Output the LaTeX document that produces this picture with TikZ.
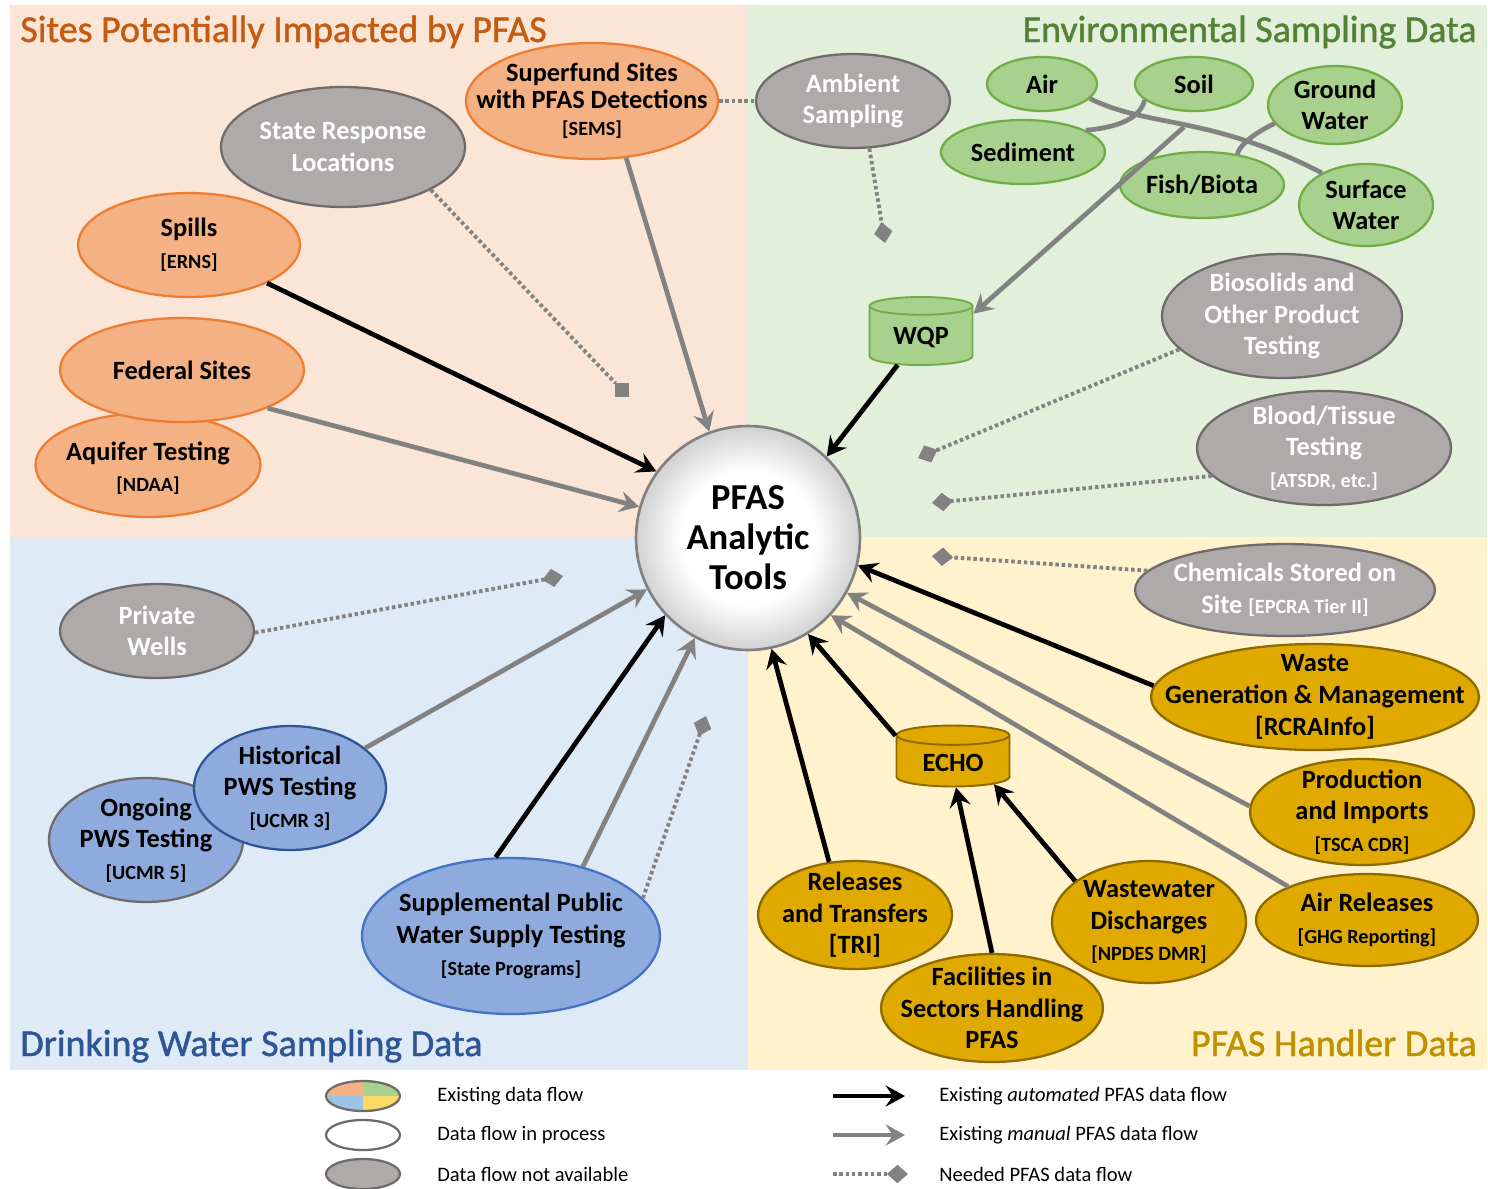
\documentclass[tikz,border=0pt]{standalone}
\usepackage{fontspec}
\setmainfont{Carlito}
\newfontfamily\headfont{Carlito}[FakeBold=1.2]
\usetikzlibrary{shapes.geometric,arrows.meta}
\definecolor{bgsites}{HTML}{FBE5D6}
\definecolor{bgenv}{HTML}{E2EFDA}
\definecolor{bgdw}{HTML}{DEEBF7}
\definecolor{bghand}{HTML}{FFF2CC}
\definecolor{ttlsites}{HTML}{C55A11}
\definecolor{ttlenv}{HTML}{548235}
\definecolor{ttldw}{HTML}{2F5597}
\definecolor{ttlhand}{HTML}{BF9000}
\definecolor{sitefill}{HTML}{F4B183}
\definecolor{siteline}{HTML}{ED7D31}
\definecolor{nafill}{HTML}{AEAAAA}
\definecolor{naline}{HTML}{6F6B6B}
\definecolor{envfill}{HTML}{A9D18E}
\definecolor{envline}{HTML}{70AD47}
\definecolor{dwfill}{HTML}{8FAADC}
\definecolor{dwline}{HTML}{4472C4}
\definecolor{handfill}{HTML}{E0A900}
\definecolor{handline}{HTML}{8C6A00}
\definecolor{flowgray}{HTML}{828282}
\definecolor{legyellow}{HTML}{FFD966}
\definecolor{legblue}{HTML}{9DC3E6}
\pgfdeclareradialshading{pfasglow}{\pgfpoint{0bp}{0bp}}{color(0bp)=(white); color(15bp)=(white); color(25bp)=(black!18); color(50bp)=(black!18)}
\newcommand{\src}[1]{{\fontsize{11.5}{13}\selectfont[#1]}}
\tikzset{
  blob/.style={ellipse, draw, line width=1.3pt, inner sep=-60pt, align=center,
    font=\bfseries\fontsize{15}{18}\selectfont},
  site/.style={blob, fill=sitefill, draw=siteline},
  nadata/.style={blob, fill=nafill, draw=naline, text=white},
  env/.style={blob, fill=envfill, draw=envline},
  dw/.style={blob, fill=dwfill, draw=dwline},
  hand/.style={blob, fill=handfill, draw=handline},
  db/.style={cylinder, shape border rotate=90, aspect=0.3, draw, line width=1.1pt,
    inner sep=1pt, anchor=shape center, font=\bfseries\fontsize{15}{17}\selectfont},
  autoflow/.style={line width=2.7pt, -{Stealth[length=11pt,width=12pt,inset=4pt]}},
  manflow/.style={autoflow, draw=flowgray},
  needflow/.style={line width=2.2pt, draw=flowgray, dash pattern=on 2pt off 1.6pt},
  needtip/.style={needflow, -{Turned Square[length=12pt,width=10.5pt,fill=flowgray]}},
  endsquare/.style={fill=flowgray, inner sep=0pt, minimum size=7.5pt},
  ttl/.style={font=\headfont\fontsize{21.6}{26}\selectfont, inner sep=0pt},
  legtext/.style={anchor=west, inner sep=0pt, font=\fontsize{11.7}{14}\selectfont}
}
\begin{document}
\begin{tikzpicture}[x=0.02cm, y=-0.02cm]
\useasboundingbox (0,0) rectangle (1488,1188);
\fill[bgsites] (10,5) rectangle (748,537);
\fill[bgenv] (748,5) rectangle (1487,537);
\fill[bgdw] (10,537) rectangle (748,1070);
\fill[bghand] (748,537) rectangle (1487,1070);
\node[ttl, text=ttlsites, anchor=base west] (ttlsites) at (20,42) {Sites Potentially Impacted by PFAS};
\node[ttl, text=ttlenv, anchor=base east] (ttlenv) at (1477,42) {Environmental Sampling Data};
\node[ttl, text=ttldw, anchor=base west] (ttldw) at (20,1056) {Drinking Water Sampling Data};
\node[ttl, text=ttlhand, anchor=base east] (ttlhand) at (1477,1056) {PFAS Handler Data};

\node[circle, minimum size=4.48cm, inner sep=0pt, shade, shading=pfasglow, draw=black!50, line width=1.5pt,
  align=center, font=\bfseries\fontsize{20.8}{22.7}\selectfont] (pfas) at (748,538) {PFAS\\Analytic\\Tools};

\node[site, minimum width=5.04cm, minimum height=2.32cm, font=\bfseries\fontsize{15}{15.5}\selectfont] (super) at (592,101) {Superfund Sites\\with PFAS Detections\\\src{SEMS}};
\node[nadata, minimum width=4.88cm, minimum height=2.40cm] (state) at (343,147) {State Response\\Locations};
\node[site, minimum width=4.44cm, minimum height=2.08cm] (spills) at (189,245) {Spills\\\src{ERNS}};
\node[site, minimum width=4.50cm, minimum height=2.08cm] (aquifer) at (148,465) {\mbox{}\\[-4pt]Aquifer Testing\\\src{NDAA}};
\node[site, minimum width=4.88cm, minimum height=2.08cm] (federal) at (182,370) {Federal Sites};
\node[endsquare] (sqstate) at (622,390) {};

\node[nadata, minimum width=3.88cm, minimum height=1.88cm] (ambient) at (853,101) {Ambient\\Sampling};
\node[env, minimum width=2.20cm, minimum height=1.08cm] (air) at (1042,84) {Air};
\node[env, minimum width=2.36cm, minimum height=1.08cm] (soil) at (1194,84) {Soil};
\node[env, minimum width=2.68cm, minimum height=1.56cm] (gw) at (1335,105) {Ground\\Water};
\node[env, minimum width=3.28cm, minimum height=1.28cm] (sed) at (1023,152) {Sediment};
\node[env, minimum width=3.28cm, minimum height=1.32cm] (fish) at (1202,185) {Fish/Biota};
\node[env, minimum width=2.68cm, minimum height=1.64cm] (surf) at (1366,205) {Surface\\Water};
\node[db, fill=envfill, draw=envline, minimum width=2.06cm, minimum height=1.36cm] (wqp) at (921,331) {WQP};
\node[nadata, minimum width=4.80cm, minimum height=2.48cm] (bios) at (1282,316) {Biosolids and\\Other Product\\Testing};
\node[nadata, minimum width=5.08cm, minimum height=2.28cm] (blood) at (1324,448) {Blood/Tissue\\Testing\\\src{ATSDR, etc.}};
\coordinate (junc) at (1184,127);
\coordinate (dmambient) at (885,243);
\coordinate (dmbios) at (918,458);
\coordinate (dmblood) at (932,503);

\node[nadata, minimum width=3.88cm, minimum height=1.88cm] (private) at (157,631) {Private\\Wells};
\node[dw, draw=naline, minimum width=3.88cm, minimum height=2.48cm] (ongoing) at (146,840) {Ongoing\\PWS Testing\\\src{UCMR 5}};
\node[dw, draw=ttldw, minimum width=3.84cm, minimum height=2.48cm] (hist) at (290,788) {Historical\\PWS Testing\\\src{UCMR 3}};
\node[dw, minimum width=5.96cm, minimum height=3.12cm] (suppl) at (511,936) {Supplemental Public\\Water Supply Testing\\\src{State Programs}};
\coordinate (dmprivate) at (563,576);
\coordinate (dmsuppl) at (706,716);

\node[nadata, minimum width=6.00cm, minimum height=1.84cm] (chem) at (1285,590) {Chemicals Stored on\\Site \src{EPCRA Tier II}};
\node[hand, minimum width=6.56cm, minimum height=2.12cm] (waste) at (1315,697) {Waste\\Generation \& Management\\{}[RCRAInfo]};
\node[hand, minimum width=4.48cm, minimum height=2.12cm] (prod) at (1362,812) {Production\\and Imports\\\src{TSCA CDR}};
\node[hand, minimum width=4.44cm, minimum height=1.84cm] (airrel) at (1367,920) {Air Releases\\\src{GHG Reporting}};
\node[hand, minimum width=3.88cm, minimum height=2.44cm] (wastew) at (1149,922) {Wastewater\\Discharges\\\src{NPDES DMR}};
\node[hand, minimum width=3.88cm, minimum height=2.16cm] (rel) at (855,915) {Releases\\and Transfers\\{}[TRI]};
\node[hand, minimum width=4.44cm, minimum height=2.16cm] (fac) at (992,1008) {Facilities in\\Sectors Handling\\PFAS};
\node[db, fill=handfill, draw=handline, minimum width=2.26cm, minimum height=1.22cm] (echo) at (953,756) {ECHO};
\coordinate (dmchem) at (932,556);

\draw[manflow] (super.-59) -- (pfas.110);
\draw[autoflow] (spills.-26) -- (pfas.144);
\draw[manflow] (federal.-24) -- (pfas.164);
\draw[needflow] (state.-26) -- (sqstate);
\draw[needflow] (super.east) -- (ambient.west);

\draw[needtip] (ambient.-71) -- (dmambient);
\draw[flowgray, line width=2.7pt] (air.-17) .. controls (1150,128) and (1210,115) .. (surf.144);
\draw[flowgray, line width=2.7pt] (soil.-162) .. controls (1140,118) and (1120,127) .. (sed.19);
\draw[flowgray, line width=2.7pt] (gw.-163) .. controls (1250,135) and (1238,148) .. (fish.41);
\draw[manflow] (junc) -- (wqp.24);
\draw[autoflow] (wqp.-130) -- (pfas.46);
\draw[needtip] (bios.-162) -- (dmbios);
\draw[needtip] (blood.-166) -- (dmblood);

\draw[needtip] (private.-1) -- (dmprivate);
\draw[manflow] (hist.28) -- (pfas.-153);
\draw[autoflow] (suppl.101) -- (pfas.-137);
\draw[manflow] (suppl.44) -- (pfas.-118);
\draw[needtip] (suppl.16) -- (dmsuppl);

\draw[needtip] (chem.172) -- (dmchem);
\draw[autoflow] (waste.176) -- (pfas.-14);
\draw[manflow] (prod.177) -- (pfas.-29);
\draw[manflow] (airrel.157) -- (pfas.-43);
\draw[autoflow] (rel.116) -- (pfas.-78);
\draw[autoflow] (echo.155) -- (pfas.-58);
\draw[autoflow] (fac.90) -- (echo.-83);
\draw[autoflow] (wastew.151) -- (echo.-28);

\node[ellipse, draw=naline, line width=1.3pt, minimum width=1.48cm, minimum height=0.60cm, inner sep=0pt,
  path picture={
    \fill[sitefill] (path picture bounding box.center) rectangle (path picture bounding box.north west);
    \fill[envfill] (path picture bounding box.center) rectangle (path picture bounding box.north east);
    \fill[legblue] (path picture bounding box.center) rectangle (path picture bounding box.south west);
    \fill[legyellow] (path picture bounding box.center) rectangle (path picture bounding box.south east);
  }] (legexist) at (363,1096) {};
\node[ellipse, draw=naline, line width=1.3pt, fill=white, minimum width=1.48cm, minimum height=0.60cm, inner sep=0pt] (legprocess) at (363,1135) {};
\node[ellipse, draw=naline, line width=1.3pt, fill=nafill, minimum width=1.48cm, minimum height=0.60cm, inner sep=0pt] (legnone) at (363,1174) {};
\node[legtext] (txexist) at (437,1096) {Existing data flow};
\node[legtext] (txprocess) at (437,1135) {Data flow in process};
\node[legtext] (txnone) at (437,1174) {Data flow not available};
\coordinate (lgautoa) at (833,1096);
\coordinate (lgautob) at (905,1096);
\coordinate (lgmana) at (833,1135);
\coordinate (lgmanb) at (905,1135);
\coordinate (lgneeda) at (833,1174);
\coordinate (lgneedb) at (908,1174);
\draw[autoflow] (lgautoa) -- (lgautob);
\draw[manflow] (lgmana) -- (lgmanb);
\draw[needtip] (lgneeda) -- (lgneedb);
\node[legtext] (txauto) at (939,1096) {Existing \textit{automated} PFAS data flow};
\node[legtext] (txman) at (939,1135) {Existing \textit{manual} PFAS data flow};
\node[legtext] (txneed) at (939,1174) {Needed PFAS data flow};
\end{tikzpicture}
\end{document}
